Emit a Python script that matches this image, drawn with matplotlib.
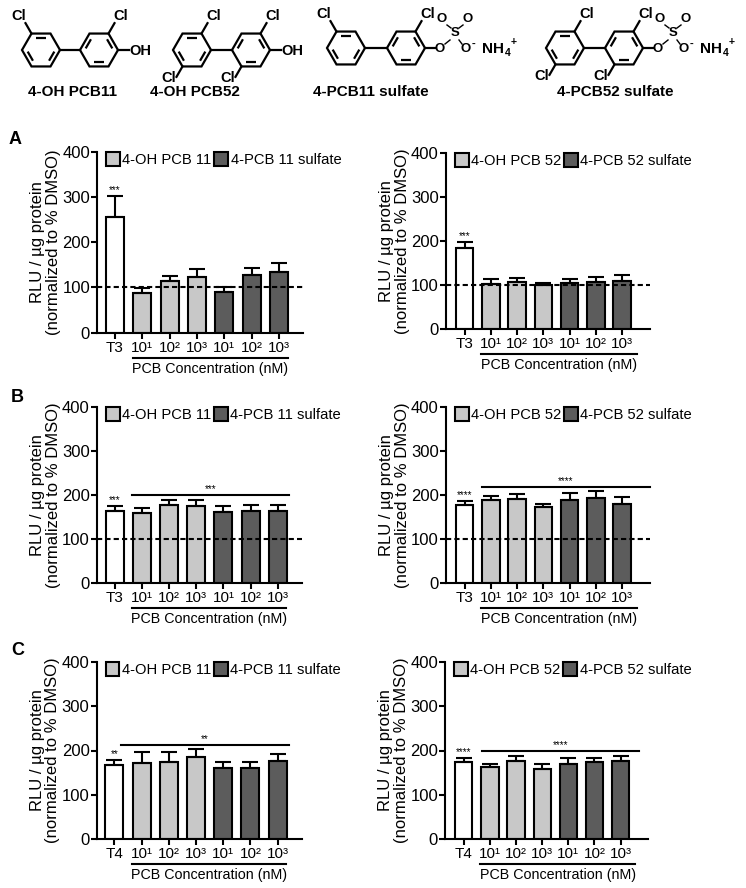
import numpy as np
import matplotlib.pyplot as plt
from matplotlib.patches import Patch, Polygon

plt.rcParams['font.family'] = ['Liberation Sans', 'DejaVu Sans']

W, H = 746, 888

#
# data (mean, upper SEM)
#
conc_labels = ['10¹', '10²', '10³', '10¹', '10²', '10³']
ctrl_labels = ['T3', 'T3', 'T4']

A_11_mean = [256, 88, 114, 124, 89, 128, 134]
A_11_err = [47, 10, 11, 16, 11, 16, 19]
A_52_mean = [184, 102, 106, 99, 104, 107, 110]
A_52_err = [13, 12, 10, 5, 9, 12, 12]

B_11_mean = [164, 158, 177, 175, 160, 164, 163]
B_11_err = [11, 12, 10, 14, 14, 12, 13]
B_52_mean = [176, 189, 191, 172, 187, 192, 180]
B_52_err = [10, 8, 10, 8, 18, 16, 14]

C_11_mean = [167, 171, 175, 185, 161, 160, 176]
C_11_err = [12, 25, 22, 18, 14, 13, 16]
C_52_mean = [174, 162, 176, 159, 169, 173, 176]
C_52_err = [9, 7, 12, 10, 13, 11, 12]

ctrl_stars = [['***', '***'], ['***', '****'], ['**', '****']]
# bracket over PCB bars: (x0, x1, y, stars) or None
brackets = [[None, None],
            [(0.65, 6.43, 199, '***'), (0.67, 7.05, 217, '****')],
            [(0.23, 6.42, 212, '**'), (0.70, 6.71, 199, '****')]]
legend_names = [['4-OH PCB 11', '4-PCB 11 sulfate'], ['4-OH PCB 52', '4-PCB 52 sulfate']]

means = [[A_11_mean, A_52_mean], [B_11_mean, B_52_mean], [C_11_mean, C_52_mean]]
errs = [[A_11_err, A_52_err], [B_11_err, B_52_err], [C_11_err, C_52_err]]

LIGHT = '#c8c8c8'
DARK = '#5c5c5c'
colors = ['white', LIGHT, LIGHT, LIGHT, DARK, DARK, DARK]

# axes rectangles in pixels: x_left, y_top, x_right, y_bottom
rects = [[(97, 151.7, 303, 332.7), (445.7, 152.7, 649.7, 329)],
         [(96.7, 406.7, 301.7, 582.7), (445.7, 406.7, 649.7, 582.7)],
         [(96.5, 662, 301.5, 839), (445, 662, 648, 839)]]
xlims = [(-0.66, 6.88), (-0.72, 7.05)]
under = [(0.64, 6.32), (0.63, 6.55)]

fig = plt.figure(figsize=(W / 100, H / 100), dpi=100)

# overlay in pixel coords for structures and panel letters
ov = fig.add_axes([0, 0, 1, 1])
ov.set_xlim(0, W)
ov.set_ylim(H, 0)
ov.axis('off')

R = 19
LW = 1.6


def ring(cx, cy, dbl):
    ang = np.radians(np.arange(0, 360, 60))
    vx = cx + R * np.cos(ang)
    vy = cy - R * np.sin(ang)
    ov.add_patch(Polygon(np.c_[vx, vy], closed=True, fill=False, ec='k', lw=LW, joinstyle='miter'))
    c = np.array([cx, cy])
    for e in dbl:
        p = c + 0.75 * (np.array([vx[e], vy[e]]) - c)
        q = c + 0.75 * (np.array([vx[(e + 1) % 6], vy[(e + 1) % 6]]) - c)
        d = q - p
        a, b = p + 0.13 * d, q - 0.13 * d
        ov.plot([a[0], b[0]], [a[1], b[1]], color='k', lw=LW, solid_capstyle='butt')
    return vx, vy


def cl(vx, vy, k):
    a = np.radians(60 * k)
    ex, ey = vx[k] + 12 * np.cos(a), vy[k] - 12 * np.sin(a)
    ov.plot([vx[k], ex], [vy[k], ey], color='k', lw=LW)
    off = {1: (6, -7), 2: (-7, -7), 4: (-8, 1)}[k]
    ov.text(ex + off[0], ey + off[1], 'Cl', ha='center', va='center', fontsize=10.5, fontweight='bold')


def biphenyl(cx1, cx2, cy, cl1, cl2):
    v1 = ring(cx1, cy, [1, 3, 5])
    v2 = ring(cx2, cy, [0, 2, 4])
    ov.plot([v1[0][0], v2[0][3]], [cy, cy], color='k', lw=LW)
    for k in cl1:
        cl(v1[0], v1[1], k)
    for k in cl2:
        cl(v2[0], v2[1], k)
    return v2[0][0]


def hydroxy(x0, cy):
    ov.plot([x0, x0 + 11], [cy, cy], color='k', lw=LW)
    ov.text(x0 + 11.5, cy + 1, 'OH', ha='left', va='center', fontsize=10.5, fontweight='bold')


def sulfate(x0, cy):
    fs = 9.5
    ov.plot([x0, x0 + 10], [cy, cy], color='k', lw=LW)
    ov.text(x0 + 15, cy + 1, 'O', ha='center', va='center', fontsize=fs, fontweight='bold')
    ov.text(x0 + 30, cy - 15, 'S', ha='center', va='center', fontsize=fs, fontweight='bold')
    ov.text(x0 + 17, cy - 29, 'O', ha='center', va='center', fontsize=fs, fontweight='bold')
    ov.text(x0 + 43, cy - 29, 'O', ha='center', va='center', fontsize=fs, fontweight='bold')
    ov.text(x0 + 41, cy + 1, 'O', ha='center', va='center', fontsize=fs, fontweight='bold')
    ov.text(x0 + 48, cy - 4, '-', ha='center', va='center', fontsize=8, fontweight='bold')
    ov.plot([x0 + 20, x0 + 25], [cy - 4, cy - 8], color='k', lw=1.0)
    ov.plot([x0 + 34, x0 + 37], [cy - 8, cy - 4], color='k', lw=1.0)
    ov.plot([x0 + 26, x0 + 22], [cy - 20, cy - 23], color='k', lw=1.0)
    ov.plot([x0 + 34, x0 + 38], [cy - 20, cy - 23], color='k', lw=1.0)
    ov.text(x0 + 57, cy + 1, 'NH', ha='left', va='center', fontsize=11, fontweight='bold')
    ov.text(x0 + 80, cy + 5, '4', ha='left', va='center', fontsize=7.5, fontweight='bold')
    ov.text(x0 + 86, cy - 6, '+', ha='left', va='center', fontsize=7.5, fontweight='bold')


hydroxy(biphenyl(41, 99, 50, [2], [1]), 50)
hydroxy(biphenyl(192, 251, 50, [1, 4], [1, 4]), 50)
sulfate(biphenyl(346, 406, 48, [2], [1]), 48)
sulfate(biphenyl(565, 624, 48, [1, 4], [1, 4]), 48)

for name, x in [('4-OH PCB11', 72), ('4-OH PCB52', 195), ('4-PCB11 sulfate', 371), ('4-PCB52 sulfate', 615)]:
    ov.text(x, 92, name, ha='center', va='center', fontsize=11, fontweight='bold')

for letter, (x, y) in zip('ABC', [(15, 140), (17, 397), (18, 650)]):
    ov.text(x, y, letter, ha='center', va='center', fontsize=13, fontweight='bold')

x = np.arange(7)
for row in range(3):
    for col in range(2):
        x0, yt, x1, yb = rects[row][col]
        ax = fig.add_axes([x0 / W, 1 - yb / H, (x1 - x0) / W, (yb - yt) / H])
        m = means[row][col]
        e = errs[row][col]
        ax.bar(x, m, width=0.66, color=colors, edgecolor='black', linewidth=1.5, zorder=2)
        ax.errorbar(x, m, yerr=[np.zeros(7), e], fmt='none', ecolor='black',
                    elinewidth=1.5, capsize=6, capthick=1.5, zorder=3)
        if row < 2:
            ax.axhline(100, color='black', lw=1.5, ls=(0, (2.5, 1.5)), zorder=4)

        ax.set_xlim(*xlims[col])
        ax.set_ylim(0, 400)
        ax.set_yticks([0, 100, 200, 300, 400])
        ax.set_xticks(x)
        ax.set_xticklabels([ctrl_labels[row]] + conc_labels)
        ax.tick_params(axis='y', labelsize=12, direction='out', length=4, width=1.5, pad=1)
        ax.tick_params(axis='x', labelsize=11, direction='out', length=4, width=1.5, pad=2)
        for s in ['top', 'right']:
            ax.spines[s].set_visible(False)
        for s in ['left', 'bottom']:
            ax.spines[s].set_linewidth(1.5)

        ax.set_ylabel('RLU / µg protein\n(normalized to % DMSO)', fontsize=12, linespacing=1.05)
        ax.yaxis.set_label_coords(-36 / (x1 - x0), 0.5)

        # stars over control bar
        ax.annotate(ctrl_stars[row][col], (0, m[0] + e[0]), xytext=(0, 0.5),
                    textcoords='offset points', ha='center', va='bottom', fontsize=7)
        br = brackets[row][col]
        if br is not None:
            ax.plot([br[0], br[1]], [br[2], br[2]], color='black', lw=1.5, clip_on=False)
            ax.text((br[0] + br[1]) / 2, br[2] + 2, br[3], ha='center', va='bottom', fontsize=7)

        # PCB concentration bracket under the axis
        hpx = yb - yt
        u0, u1 = under[col]
        tr = ax.get_xaxis_transform()
        ax.plot([u0, u1], [-25 / hpx, -25 / hpx], color='black', lw=1.5, transform=tr, clip_on=False)
        ax.text((u0 + u1) / 2, -36 / hpx, 'PCB Concentration (nM)', transform=tr,
                ha='center', va='center', fontsize=10.3)

        handles = [Patch(facecolor=LIGHT, edgecolor='black', linewidth=1.5, label=legend_names[col][0]),
                   Patch(facecolor=DARK, edgecolor='black', linewidth=1.5, label=legend_names[col][1])]
        ax.legend(handles=handles, ncol=2, loc='upper left', bbox_to_anchor=(9 / (x1 - x0), 1.0),
                  frameon=False, fontsize=10.6, handlelength=0.95, handleheight=1.1,
                  handletextpad=0.15, columnspacing=0.2, borderpad=0, borderaxespad=0)

fig.savefig('out.png', dpi=100)
